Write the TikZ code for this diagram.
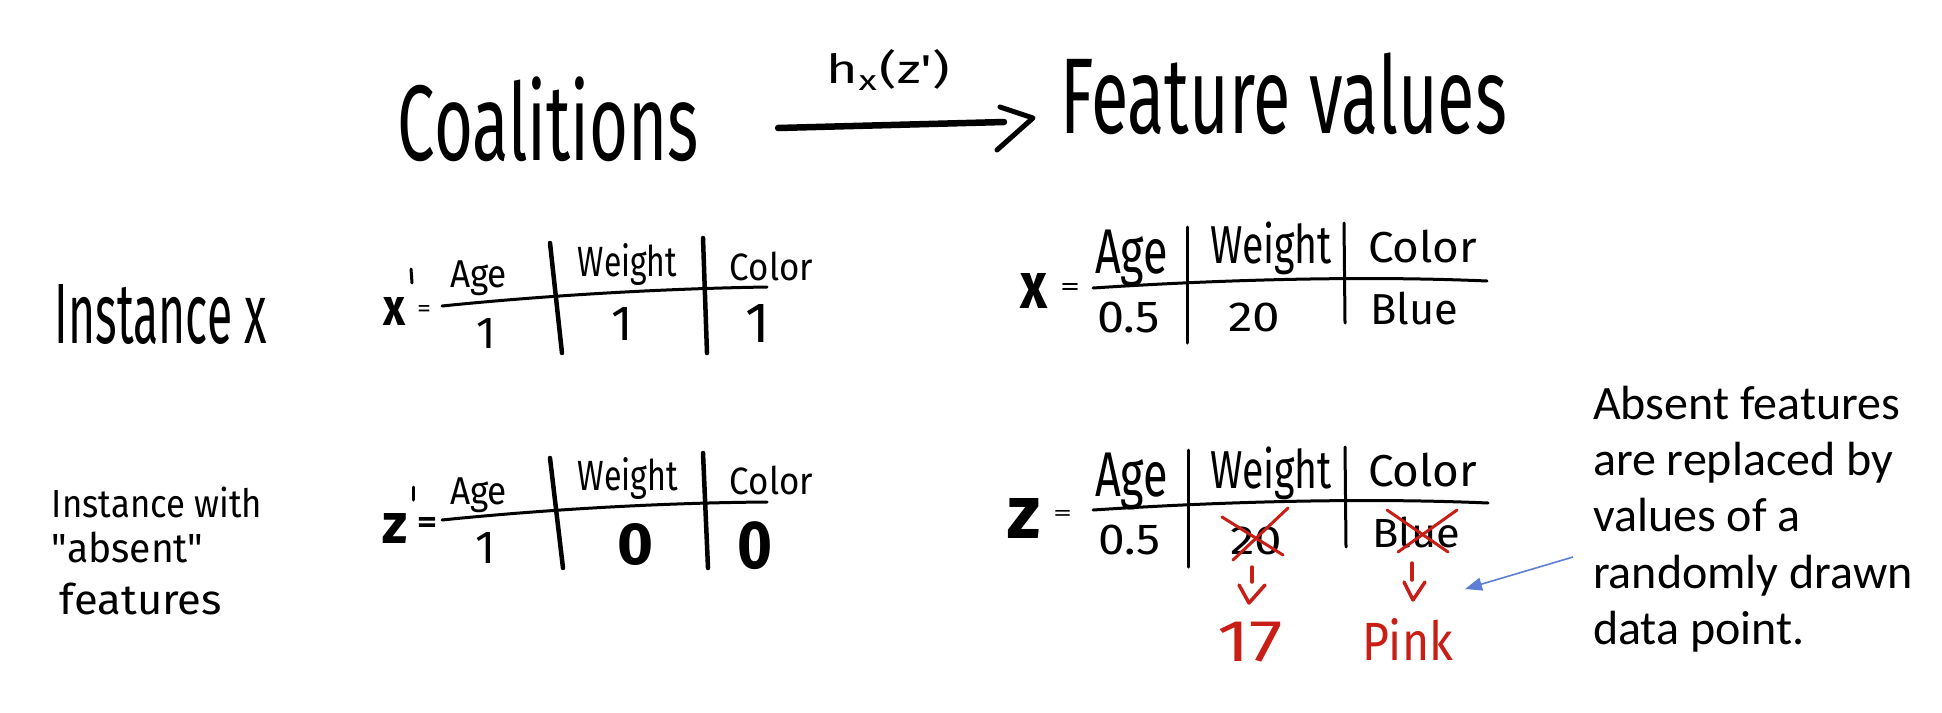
\documentclass[tikz,border=0pt]{standalone}
\usepackage{fontspec}
\usepackage{graphicx}
\usetikzlibrary{arrows.meta,calc}
\newfontfamily\hwfont{Fira Sans}
\newfontfamily\calfont{Carlito}
\definecolor{inkred}{RGB}{200,30,22}
\definecolor{arrowblue}{RGB}{92,126,212}
\newcommand\fitbox[3]{\resizebox*{#1pt}{#2pt}{#3}}
\newcommand\fith[2]{\resizebox*{!}{#1pt}{#2}}
\begin{document}
\begin{tikzpicture}[x=1pt,y=-1pt,
  hw/.style={inner sep=0pt,outer sep=0pt,anchor=center,font=\hwfont},
  hwred/.style={hw,text=inkred},
  rule/.style={line width=3pt,line cap=round},
  bar/.style={line width=4.5pt,line cap=round},
  thinbar/.style={line width=3pt,line cap=round},
  primestroke/.style={line width=3pt,line cap=round},
  cross/.style={inkred,line width=3pt,line cap=round},
  redarrow/.style={inkred,line width=3.5pt,line cap=round,line join=round},
  callout/.style={inner sep=0pt,outer sep=0pt,anchor=north west,align=left,
    font=\calfont\fontsize{48}{56.3}\selectfont},
  bluearrow/.style={arrowblue,line width=1.6pt,-{Triangle[length=17pt,width=13pt]}},
]
\fill[white] (0,0) rectangle (1942,712);
\useasboundingbox (0,0) rectangle (1942,712);

% ---- title row
\node[hw] (coal) at (548.5,119.5) {\fitbox{301}{85}{Coalitions}};
\node[hw] (feat) at (1283.5,94) {\fitbox{447}{82}{Feature values}};
\node[hw] (hx) at (888.5,70) {\fitbox{123}{40}{h\textsubscript{x}(z')}};
\coordinate (a0) at ($(coal.east)+(79,8.5)$);
\coordinate (a1) at ($(feat.west)+(-56,28)$);
\coordinate (h1) at ($(feat.west)+(-60,13)$);
\coordinate (h2) at ($(feat.west)+(-27,24)$);
\coordinate (h3) at ($(feat.west)+(-63,56)$);
\draw[line width=6.5pt,line cap=round] (a0) -- (a1);
\draw[line width=5pt,line cap=round,line join=round] (h1) -- (h2) -- (h3);

% ---- row labels
\node[hw] (instx) at (161,315) {\fitbox{212}{60}{Instance x}};
\node[hw] (instw) at (157,502.5) {\fitbox{210}{31}{Instance with}};
\node[hw] (absent) at (127.5,547.5) {\fitbox{151}{31}{"absent"}};
\node[hw] (feats) at (141,599) {\fitbox{162}{32}{features}};

% ---- table x'
\node[hw] (xp) at (394,311) {\fitbox{22}{28}{\bfseries x}};
\draw[primestroke] (411,269) -- (412,283);
\node[hw] (xpeq) at (424,310.5) {\fitbox{14}{11}{=}};
\draw[rule] (442,306) .. controls (520,298) and (640,289) .. (767,287);
\draw[bar] (550,243) -- (562,353);
\draw[bar] (703,238) -- (707,353);
\node[hw] (xpage) at (478.5,278.5) {\fitbox{57}{35}{Age}};
\node[hw] (xpweight) at (627.5,265) {\fitbox{99}{42}{Weight}};
\node[hw] (xpcolor) at (771.5,266) {\fitbox{83}{29}{Color}};
\node[hw] (xpv1) at (486,333) {\fith{30}{1}};
\node[hw] (xpv2) at (622.5,323.5) {\fith{33}{1}};
\node[hw] (xpv3) at (757.5,323) {\fith{38}{1}};

% ---- table z'
\node[hw] (zp) at (394.5,528) {\fitbox{25}{30}{\bfseries z}};
\draw[primestroke] (413,487) -- (413,500);
\node[hw] (zpeq) at (427,524.5) {\fitbox{20}{15}{\bfseries =}};
\draw[rule] (442,520) .. controls (520,512) and (640,503) .. (767,502);
\draw[bar] (550,458) -- (563,568);
\draw[bar] (703,453) -- (708,568);
\node[hw] (zpage) at (478.5,495.5) {\fitbox{57}{35}{Age}};
\node[hw] (zpweight) at (628,479) {\fitbox{100}{42}{Weight}};
\node[hw] (zpcolor) at (771.5,480) {\fitbox{83}{29}{Color}};
\node[hw] (zpv1) at (486,547.5) {\fith{31}{1}};
\node[hw] (zpv2) at (635,544) {\fitbox{36}{42}{\bfseries 0}};
\node[hw] (zpv3) at (754.5,546) {\fitbox{35}{48}{\bfseries 0}};

% ---- table x
\node[hw] (xx) at (1033.5,290.5) {\fitbox{27}{35}{\bfseries x}};
\node[hw] (xeq) at (1070,289) {\fitbox{20}{12}{=}};
\draw[rule] (1093,288) .. controls (1200,281) and (1350,275) .. (1487,281);
\draw[thinbar] (1187,227) -- (1187,343);
\draw[thinbar] (1344,223) -- (1345,323);
\node[hw] (xage) at (1131.5,258.5) {\fitbox{73}{57}{Age}};
\node[hw] (xweight) at (1271,248.5) {\fitbox{122}{53}{Weight}};
\node[hw] (xcolor) at (1422.5,246.5) {\fitbox{109}{33}{Color}};
\node[hw] (xv1) at (1128.5,317.5) {\fitbox{63}{31}{0.5}};
\node[hw] (xv2) at (1254,317.5) {\fitbox{52}{29}{20}};
\node[hw] (xv3) at (1414,308.5) {\fitbox{88}{33}{Blue}};

% ---- table z
\node[hw] (zz) at (1023.5,518) {\fitbox{33}{40}{\bfseries z}};
\node[hw] (zeq) at (1062.5,515) {\fitbox{19}{10}{=}};
\draw[rule] (1093,510) .. controls (1200,503) and (1350,497) .. (1488,503);
\draw[thinbar] (1188,450) -- (1188,567);
\draw[thinbar] (1345,447) -- (1346,547);
\node[hw] (zage) at (1131.5,481.5) {\fitbox{73}{57}{Age}};
\node[hw] (zweight) at (1271,473.5) {\fitbox{122}{53}{Weight}};
\node[hw] (zcolor) at (1422.5,470) {\fitbox{109}{34}{Color}};
\node[hw] (zv1) at (1129,540) {\fitbox{62}{30}{0.5}};
\node[hw] (zv2) at (1256,541) {\fitbox{52}{28}{20}};
\node[hw] (zv3) at (1416,532.5) {\fitbox{88}{31}{Blue}};
\draw[cross] (1233,560) -- (1288,508);
\draw[cross] (1222,517) -- (1283,555);
\draw[cross] (1398,552) -- (1457,510);
\draw[cross] (1387,510) -- (1448,552);

% ---- replacements
\node[hwred] (r17) at (1250,642) {\fitbox{66}{40}{17}};
\node[hwred] (rpink) at (1407.5,639) {\fitbox{91}{42}{Pink}};
\coordinate (s1a) at (1252,567); \coordinate (s1b) at (1252,582);
\coordinate (v1a) at (1239,585); \coordinate (v1b) at (1249,603); \coordinate (v1c) at (1265,585);
\coordinate (s2a) at (1412,563); \coordinate (s2b) at (1412,580);
\coordinate (v2a) at (1404,582); \coordinate (v2b) at (1413,600); \coordinate (v2c) at (1425,582);
\draw[redarrow] (s1a) -- (s1b);
\draw[redarrow] (v1a) -- (v1b) -- (v1c);
\draw[redarrow] (s2a) -- (s2b);
\draw[redarrow] (v2a) -- (v2b) -- (v2c);

% ---- callout
\node[callout] (note) at (1593,386) {Absent features\\are replaced by\\values of a\\randomly drawn\\data point.};
\coordinate (btail) at (1573,557);
\coordinate (bhead) at (1465,589);
\draw[bluearrow] (btail) -- (bhead);
\end{tikzpicture}
\end{document}
